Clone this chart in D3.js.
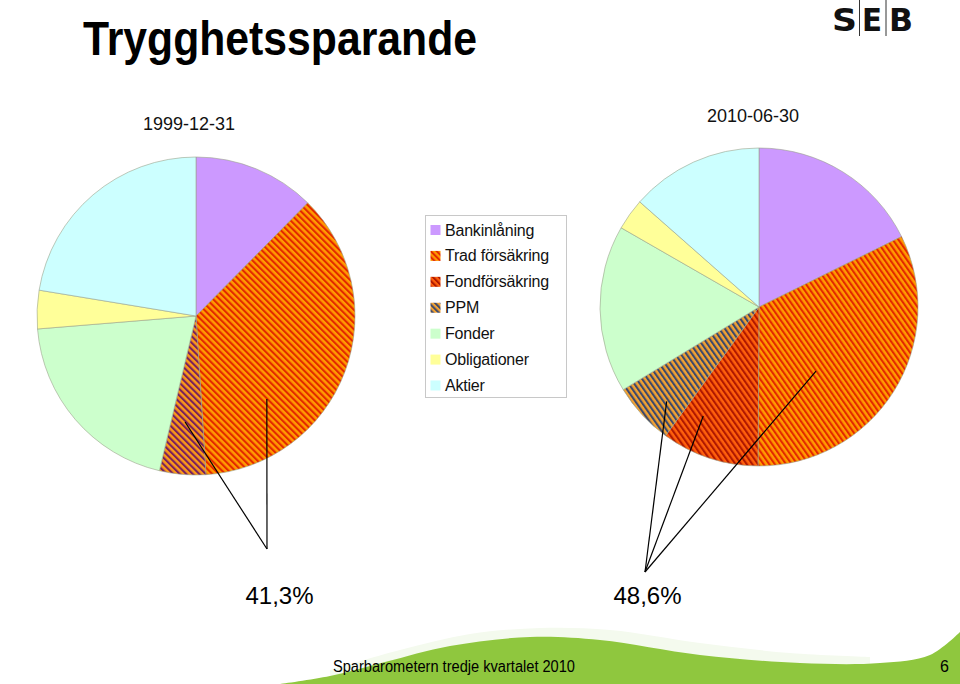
<!DOCTYPE html>
<html><head><meta charset="utf-8">
<script src="https://cdn.jsdelivr.net/npm/d3@7"></script>
<style>
body{margin:0;background:#fff}
svg{display:block;font-family:"Liberation Sans",Arial,Helvetica,sans-serif}
</style>
</head><body>
<svg id="c" width="960" height="684"></svg>
<script>
// ---------- data ----------
const categories = ["Bankinlåning","Trad försäkring","Fondförsäkring","PPM","Fonder","Obligationer","Aktier"];
const dates = ["1999-12-31","2010-06-30"];
const values1999 = [12.4, 36.6, 0, 4.7, 20.0, 3.9, 22.4];
const values2010 = [17.7, 32.4, 9.9, 6.3, 17.0, 3.2, 13.5];
const totalLabels = ["41,3%","48,6%"];
const titleText = "Trygghetssparande";
const footerText = "Sparbarometern tredje kvartalet 2010";
const pageText = "6";

// ---------- styles ----------
const solid = {"Bankinlåning":"#cc99ff","Fonder":"#ccffcc","Obligationer":"#ffff99","Aktier":"#ccffff"};
const hatch = {
  "Trad försäkring":{bg:"#ff9c00",fg:"#e32800"},
  "Fondförsäkring":{bg:"#ff600c",fg:"#b01800"},
  "PPM":{bg:"#f2a232",fg:"#3c486c"}
};

const svg = d3.select("#c");
const defs = svg.append("defs");

function makePattern(id, h, rot, per, sw){
  const p = defs.append("pattern").attr("id",id)
    .attr("patternUnits","userSpaceOnUse").attr("width",per).attr("height",20)
    .attr("patternTransform",`rotate(${rot})`);
  p.append("rect").attr("width",per).attr("height",20).attr("fill",h.bg);
  p.append("rect").attr("width",sw).attr("height",20).attr("fill",h.fg);
}

const pies = [
  {values:values1999, date:dates[0], cx:196, cy:316, r:159, rot:-45,
   override:{"PPM":{bg:"#fb9a18",fg:"#78205f"}},
   leaders:[{cat:"Trad försäkring",f:0.72,rf:0.686},{cat:"PPM",f:0.56,rf:0.67}],
   vertex:[267,549], label:[279.5,604], dateX:143, dateY:130},
  {values:values2010, date:dates[1], cx:759, cy:307, r:159, rot:-35,
   override:{},
   leaders:[{cat:"PPM",f:0.37,rf:0.83},{cat:"Fondförsäkring",f:0.75,rf:0.77},{cat:"Trad försäkring",f:0.64,rf:0.54}],
   vertex:[645,572], label:[647.5,604], dateX:707, dateY:122}
];

function fillFor(pi, cat){
  if (solid[cat]) return solid[cat];
  return `url(#h${pi}_${categories.indexOf(cat)})`;
}

// ---------- bottom band ----------
const bandTop = [[280,684],[330,676],[385,662],[450,646],[530,637],[600,640],[700,655],[800,663],[880,663],[930,655],[960,632]];
const paleTop = [[330,670],[400,650],[470,634],[540,628],[610,630],[700,643],[790,653],[870,657]];
const curve = d3.line().curve(d3.curveCatmullRom.alpha(0.5));
svg.append("path")
  .attr("d", curve(paleTop) + "L870,684L330,684Z")
  .attr("fill","#f4faee");
svg.append("path")
  .attr("d", curve(bandTop) + "L960,684L280,684Z")
  .attr("fill","#8fc73e");

// ---------- title ----------
svg.append("text").attr("x",83).attr("y",55)
  .attr("font-size",48).attr("font-weight","bold")
  .attr("textLength",394).attr("lengthAdjust","spacingAndGlyphs")
  .text(titleText);

// SEB logo
const logo = svg.append("g");
[["S",832,25],["E",862,20],["B",889,24]].forEach(([t,x,w])=>{
  logo.append("text").attr("x",x).attr("y",31).attr("font-size",32).attr("font-weight","900")
    .attr("font-family","'DejaVu Sans','Liberation Sans',sans-serif")
    .attr("textLength",w).attr("lengthAdjust","spacingAndGlyphs").attr("fill","#111").text(t);
});
[859.5,886].forEach(x=>logo.append("line").attr("x1",x).attr("x2",x).attr("y1",0).attr("y2",36)
  .attr("stroke","#333").attr("stroke-width",1));

// ---------- pies ----------
const pieGen = d3.pie().sort(null).value(d=>d.v).startAngle(0).endAngle(2*Math.PI);

pies.forEach((P, pi)=>{
  Object.keys(hatch).forEach(cat=>{
    const h = P.override[cat] || hatch[cat];
    makePattern(`h${pi}_${categories.indexOf(cat)}`, h, P.rot, 4.6, 2.1);
  });
  const arcs = pieGen(categories.map((c,i)=>({c, v:P.values[i]})));
  const arc = d3.arc().innerRadius(0).outerRadius(P.r);
  const g = svg.append("g").attr("transform",`translate(${P.cx},${P.cy})`);
  g.selectAll("path").data(arcs.filter(a=>a.endAngle>a.startAngle)).join("path")
    .attr("d",arc)
    .attr("fill",d=>fillFor(pi,d.data.c))
    .attr("stroke","#9aa38c").attr("stroke-width",0.6);

  svg.append("text").attr("x",P.dateX).attr("y",P.dateY).attr("font-size",18).attr("fill","#111").text(P.date);

  P.leaders.forEach(L=>{
    const s = arcs[categories.indexOf(L.cat)];
    const a = s.startAngle + L.f*(s.endAngle - s.startAngle);
    const x = P.cx + L.rf*P.r*Math.sin(a), y = P.cy - L.rf*P.r*Math.cos(a);
    svg.append("line").attr("x1",P.vertex[0]).attr("y1",P.vertex[1]).attr("x2",x).attr("y2",y)
      .attr("stroke","#000").attr("stroke-width",1.2);
  });
  svg.append("text").attr("x",P.label[0]).attr("y",P.label[1]).attr("text-anchor","middle")
    .attr("font-size",24).attr("fill","#000").text(totalLabels[pi]);
});

// ---------- legend ----------
Object.keys(hatch).forEach(cat=>makePattern(`hL_${categories.indexOf(cat)}`, hatch[cat], -45, 4.2, 2));
const lg = svg.append("g");
lg.append("rect").attr("x",425.5).attr("y",215.5).attr("width",141).attr("height",182)
  .attr("fill","#fff").attr("stroke","#c8c8c8").attr("stroke-width",1);
const ly = d3.scalePoint().domain(categories).range([230,385.5]);
categories.forEach(cat=>{
  lg.append("rect").attr("x",430.5).attr("y",ly(cat)-5).attr("width",10).attr("height",10)
    .attr("fill", solid[cat] || `url(#hL_${categories.indexOf(cat)})`);
  lg.append("text").attr("x",445).attr("y",ly(cat)+5.5).attr("font-size",16).attr("fill","#111")
    .attr("letter-spacing",-0.2).text(cat);
});

// ---------- footer ----------
svg.append("text").attr("x",333).attr("y",672).attr("font-size",16)
  .attr("textLength",242).attr("lengthAdjust","spacingAndGlyphs").attr("fill","#000").text(footerText);
svg.append("text").attr("x",949).attr("y",672).attr("text-anchor","end").attr("font-size",16).attr("fill","#000").text(pageText);
</script>
</body></html>
